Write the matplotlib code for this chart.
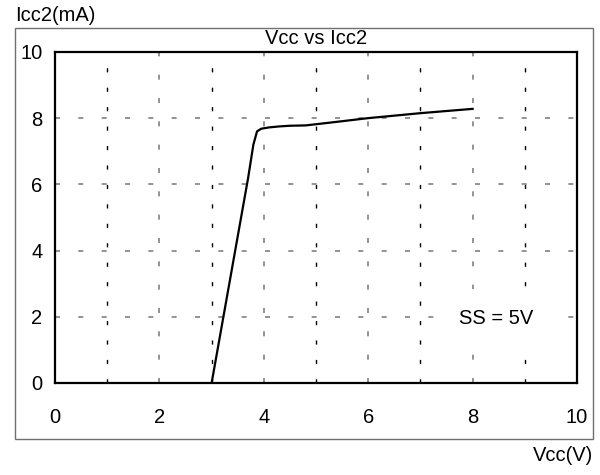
import matplotlib
matplotlib.use('Agg')
import matplotlib.pyplot as plt
from matplotlib.patches import Rectangle

plt.rcParams['font.family'] = ['Liberation Sans', 'DejaVu Sans']

vcc = [3.0, 3.35, 3.7, 3.8, 3.87, 3.95, 4.1, 4.3, 4.5, 4.8, 5.3, 6.0, 7.0, 8.0]
icc2 = [0.0, 3.1, 6.2, 7.2, 7.6, 7.68, 7.72, 7.75, 7.77, 7.78, 7.87, 8.0, 8.15, 8.28]

x_ticks = [0, 2, 4, 6, 8, 10]
y_ticks = [0, 2, 4, 6, 8, 10]
x_minor = [1, 3, 5, 7, 9]
y_grid = [2, 4, 6, 8]

fs = 14.5

fig = plt.figure(figsize=(6, 4.75), dpi=100)
fig.patch.set_facecolor('white')

# outer frame
fig.patches.append(Rectangle((0.025, 0.0758), 0.963, 0.865, transform=fig.transFigure,
                             fill=False, edgecolor='#707070', linewidth=1.0))

ax = fig.add_axes([0.0917, 0.1937, 0.87, 0.697])
ax.set_xlim(0, 10)
ax.set_ylim(0, 10)

dash = (0, (3, 11))
for xv in x_ticks[1:-1]:
    ax.axvline(xv, color='#808080', linestyle=dash, linewidth=1.2, zorder=1)
for xv in x_minor:
    ax.axvline(xv, color='black', linestyle=dash, linewidth=1.0, zorder=1)
for yv in y_grid:
    ax.axhline(yv, color='#808080', linestyle=dash, linewidth=1.2, zorder=1)

ax.plot(vcc, icc2, color='black', linewidth=1.6, zorder=3)

ax.set_xticks(x_ticks)
ax.set_yticks(y_ticks)
ax.tick_params(length=0, labelsize=fs, pad=0)
ax.tick_params(axis='x', pad=18)
ax.tick_params(axis='y', pad=9)
for s in ax.spines.values():
    s.set_linewidth(1.6)
    s.set_color('black')

ax.text(8.45, 1.95, 'SS = 5V', fontsize=fs, ha='center', va='center', zorder=4,
        bbox=dict(facecolor='white', edgecolor='none', pad=14))

fig.text(0.5 * 0.87 + 0.0917, 0.918, 'Vcc vs Icc2', fontsize=fs, ha='center', va='center')
fig.text(0.025, 0.968, 'Icc2(mA)', fontsize=fs, ha='left', va='center')
fig.text(0.988, 0.042, 'Vcc(V)', fontsize=fs, ha='right', va='center')

fig.savefig('out.png', dpi=100)
